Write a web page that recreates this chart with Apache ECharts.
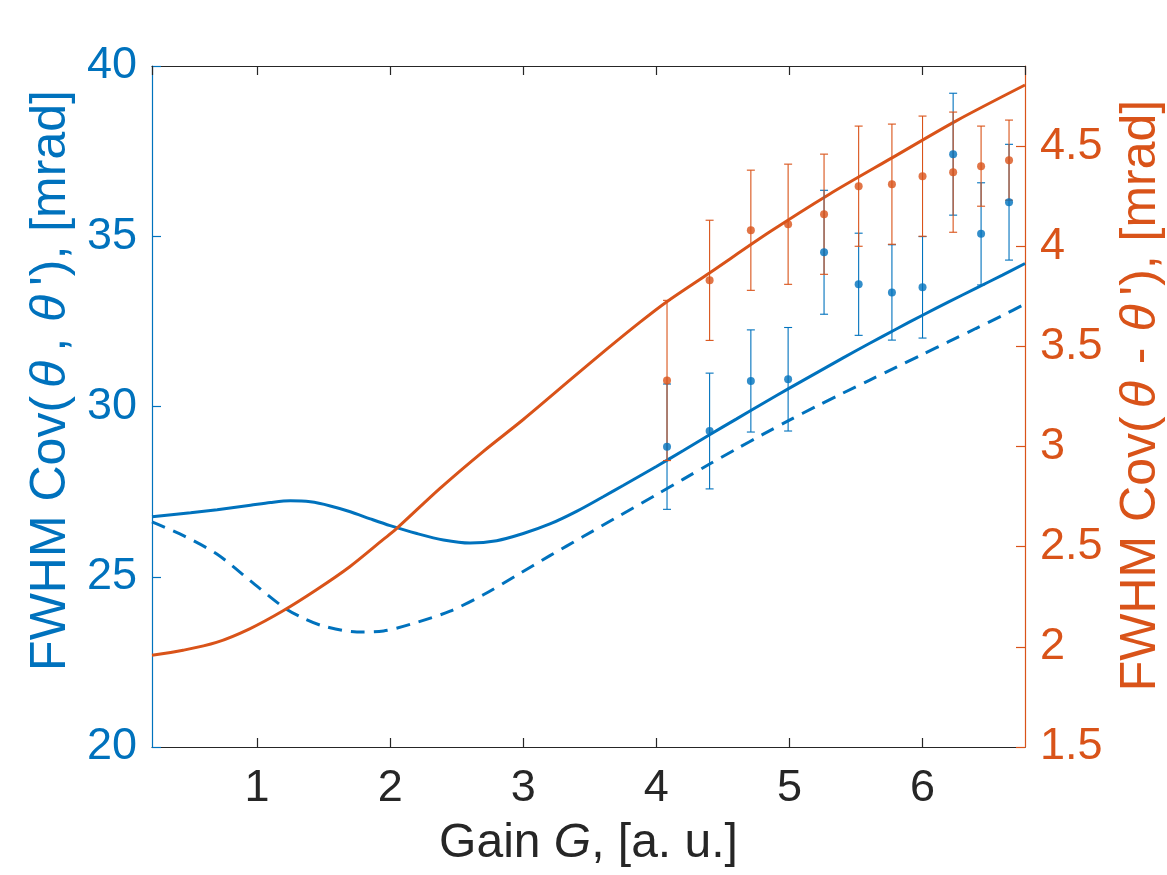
<!DOCTYPE html>
<html>
<head>
<meta charset="utf-8">
<script src="https://cdn.jsdelivr.net/npm/echarts@6/dist/echarts.min.js"></script>
<style>html,body{margin:0;padding:0;background:#fff;}#c{width:1167px;height:875px;}</style>
</head>
<body>
<div id="c"></div>
<script>
// ---- data ----
const solidX = [0.21,0.5,0.7,0.95,1.1,1.25,1.4,1.55,1.7,1.85,2.0,2.2,2.4,2.6,2.8,3.0,3.2,3.4,3.6,3.75,4.0,4.2,4.4,4.6,4.8,5.0,5.2,5.4,5.6,5.8,6.0,6.2,6.4,6.6,6.77];
const solidY = [26.76,26.88,26.97,27.10,27.18,27.23,27.20,27.08,26.91,26.70,26.50,26.27,26.08,25.99,26.06,26.27,26.55,26.92,27.35,27.68,28.24,28.70,29.17,29.63,30.09,30.54,30.98,31.42,31.85,32.27,32.68,33.08,33.47,33.86,34.20];
const dashX = [0.21,0.45,0.7,0.95,1.2,1.35,1.5,1.75,1.95,2.2,2.45,2.7,2.95,3.2,3.45,3.7,4.0,4.2,4.4,4.6,4.8,5.0,5.2,5.4,5.6,5.8,6.0,6.2,6.4,6.6,6.77];
const dashY = [26.61,26.20,25.66,24.88,24.10,23.78,23.55,23.38,23.41,23.66,23.99,24.47,25.04,25.62,26.18,26.74,27.41,27.86,28.31,28.75,29.18,29.60,30.00,30.39,30.77,31.15,31.53,31.91,32.29,32.67,33.01];
const orangeX = [0.21,0.443,0.694,0.944,1.195,1.446,1.696,1.946,2.047,2.372,2.698,3.0,3.374,3.625,3.875,4.076,4.402,4.853,5.3,5.767,6.25,6.77];
const orangeY = [1.958,1.983,2.022,2.090,2.180,2.285,2.400,2.535,2.590,2.790,2.975,3.135,3.345,3.485,3.620,3.722,3.868,4.072,4.260,4.440,4.625,4.805];
const ptX = [4.08,4.40,4.71,4.99,5.26,5.52,5.77,6.00,6.23,6.44,6.65];
const bluePts = [28.82,29.28,30.75,30.80,34.53,33.59,33.35,33.50,37.41,35.07,36.00];
const blueErr = [1.84,1.70,1.50,1.52,1.82,1.50,1.40,1.49,1.79,1.50,1.70];
const orangePts = [3.33,3.83,4.08,4.11,4.16,4.30,4.31,4.35,4.37,4.40,4.43];
const orangeErr = [0.40,0.30,0.30,0.30,0.30,0.30,0.30,0.30,0.30,0.20,0.20];
const xTicks = [1,2,3,4,5,6];

// ---- styles ----
const BLUE = '#0072BD', ORANGE = '#D95319', DARK = '#262626';
const FONT = 'Liberation Sans, Arial, Helvetica, sans-serif';
const TICK_FS = 45, NAME_FS = 48, YNAME_FS = 50;

const zip = (a, b) => a.map((v, i) => [v, b[i]]);
const zip3 = (a, b, c) => a.map((v, i) => [v, b[i], c[i]]);

function errRender(color) {
  return function (params, api) {
    const x = api.value(0), y = api.value(1), e = api.value(2);
    const lo = api.coord([x, y - e]);
    const hi = api.coord([x, y + e]);
    const w = 4;
    const st = { stroke: color, lineWidth: 1.1 };
    return {
      type: 'group',
      children: [
        { type: 'line', shape: { x1: lo[0], y1: lo[1], x2: hi[0], y2: hi[1] }, style: st },
        { type: 'line', shape: { x1: lo[0] - w, y1: lo[1], x2: lo[0] + w, y2: lo[1] }, style: st },
        { type: 'line', shape: { x1: hi[0] - w, y1: hi[1], x2: hi[0] + w, y2: hi[1] }, style: st }
      ]
    };
  };
}

function nameRich(color) {
  return {
    n: { fontFamily: FONT, fontSize: YNAME_FS, color: color },
    t: { fontFamily: FONT, fontSize: YNAME_FS, color: color, fontStyle: 'italic', padding: [0, 9, 0, 8] },
    c: { fontFamily: FONT, fontSize: YNAME_FS, color: color, padding: [0, 8, 0, 0] },
    m: { fontFamily: FONT, fontSize: YNAME_FS, color: color, padding: [0, 8, 0, 8] }
  };
}

const xCommon = {
  type: 'value', min: 0.21, max: 6.77, splitNumber: 6, minInterval: 1, maxInterval: 1,
  splitLine: { show: false },
  axisLine: { show: true, onZero: false, lineStyle: { color: DARK, width: 1.2 } },
  axisTick: { show: true, inside: true, length: 9, lineStyle: { color: DARK, width: 1.2 } }
};

const chart = echarts.init(document.getElementById('c'), null, { renderer: 'canvas' });
chart.setOption({
  animation: false,
  backgroundColor: '#fff',
  grid: { left: 152, right: 142, top: 66, bottom: 128, containLabel: false, outerBoundsMode: 'none' },
  xAxis: [
    Object.assign({}, xCommon, {
      position: 'bottom',
      name: 'Gain {i|G}, [a. u.]',
      nameLocation: 'middle', nameGap: 73,
      nameTextStyle: { fontFamily: FONT, fontSize: NAME_FS, color: DARK,
        rich: { i: { fontFamily: FONT, fontSize: NAME_FS, fontStyle: 'italic', color: DARK } } },
      axisLabel: { show: true, margin: 19, fontFamily: FONT, fontSize: TICK_FS, color: DARK,
        showMinLabel: false, showMaxLabel: false,
        formatter: v => (xTicks.indexOf(Math.round(v * 1000) / 1000) >= 0 ? String(v) : '') }
    }),
    Object.assign({}, xCommon, { position: 'top', axisLabel: { show: false } })
  ],
  yAxis: [
    {
      type: 'value', min: 20, max: 40, interval: 5, position: 'left',
      name: '{n|FWHM Cov(}{t|θ}{c|,}{t|θ}{n|\'), [mrad]}',
      nameLocation: 'middle', nameGap: 75,
      nameTextStyle: { fontFamily: FONT, fontSize: YNAME_FS, color: BLUE, padding: [0, 0, 0, 52],
        rich: nameRich(BLUE) },
      splitLine: { show: false },
      axisLine: { show: true, onZero: false, lineStyle: { color: BLUE, width: 1.2 } },
      axisTick: { show: true, inside: true, length: 9, lineStyle: { color: BLUE, width: 1.2 } },
      axisLabel: { margin: 15, fontFamily: FONT, fontSize: TICK_FS, color: BLUE }
    },
    {
      type: 'value', min: 1.5, max: 4.9, interval: 0.5, position: 'right',
      name: '{n|FWHM Cov(}{t|θ}{m|-}{t|θ}{n|\'), [mrad]}',
      nameLocation: 'middle', nameGap: 91, nameRotate: 90,
      nameTextStyle: { fontFamily: FONT, fontSize: YNAME_FS, color: ORANGE, padding: [0, 0, 0, 22],
        rich: nameRich(ORANGE) },
      splitLine: { show: false },
      axisLine: { show: true, onZero: false, lineStyle: { color: ORANGE, width: 1.2 } },
      axisTick: { show: true, inside: true, length: 9, lineStyle: { color: ORANGE, width: 1.2 } },
      axisLabel: { margin: 15, fontFamily: FONT, fontSize: TICK_FS, color: ORANGE, showMaxLabel: false,
        formatter: v => (Math.abs(v * 2 - Math.round(v * 2)) < 1e-6 ? String(v) : '') }
    }
  ],
  series: [
    { type: 'line', xAxisIndex: 0, yAxisIndex: 0, data: zip(solidX, solidY), showSymbol: false, smooth: 0.3,
      lineStyle: { color: BLUE, width: 3 }, z: 3 },
    { type: 'line', xAxisIndex: 0, yAxisIndex: 0, data: zip(dashX, dashY), showSymbol: false, smooth: 0.3,
      lineStyle: { color: BLUE, width: 3, type: [14, 9] }, z: 3 },
    { type: 'custom', xAxisIndex: 0, yAxisIndex: 0, data: zip3(ptX, bluePts, blueErr),
      renderItem: errRender(BLUE), encode: { x: 0, y: 1 }, z: 4 },
    { type: 'scatter', xAxisIndex: 0, yAxisIndex: 0, data: zip(ptX, bluePts), symbolSize: 8,
      itemStyle: { color: BLUE }, z: 5 },
    { type: 'line', xAxisIndex: 0, yAxisIndex: 1, data: zip(orangeX, orangeY), showSymbol: false, smooth: 0.3,
      lineStyle: { color: ORANGE, width: 3 }, z: 3 },
    { type: 'custom', xAxisIndex: 0, yAxisIndex: 1, data: zip3(ptX, orangePts, orangeErr),
      renderItem: errRender(ORANGE), encode: { x: 0, y: 1 }, z: 4 },
    { type: 'scatter', xAxisIndex: 0, yAxisIndex: 1, data: zip(ptX, orangePts), symbolSize: 8,
      itemStyle: { color: ORANGE }, z: 5 }
  ]
});
</script>
</body>
</html>
